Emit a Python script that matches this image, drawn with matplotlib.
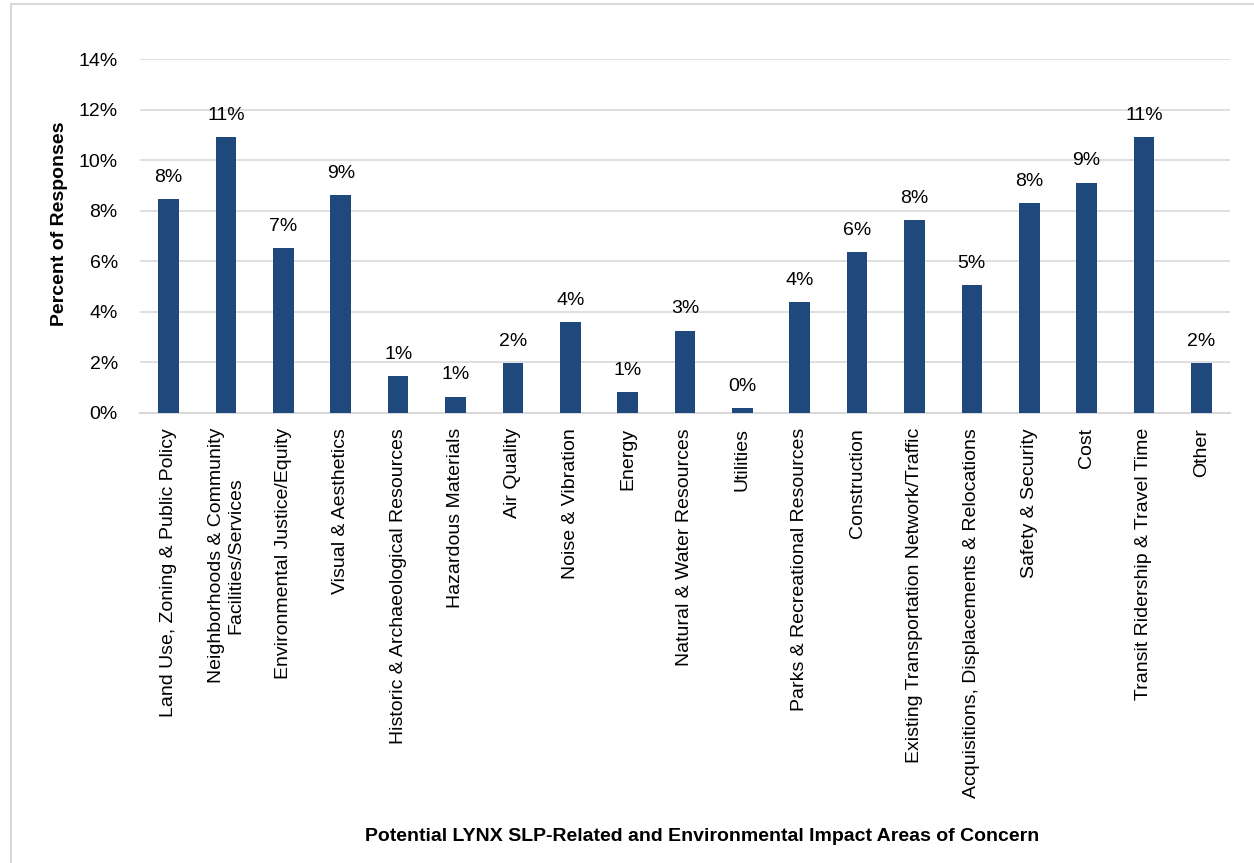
import matplotlib
matplotlib.use("Agg")
import matplotlib.pyplot as plt
from matplotlib.lines import Line2D
from matplotlib.ticker import FuncFormatter
import numpy as np

categories = [
    "Land Use, Zoning & Public Policy",
    "Neighborhoods & Community\nFacilities/Services",
    "Environmental Justice/Equity",
    "Visual & Aesthetics",
    "Historic & Archaeological Resources",
    "Hazardous Materials",
    "Air Quality",
    "Noise & Vibration",
    "Energy",
    "Natural & Water Resources",
    "Utilities",
    "Parks & Recreational Resources",
    "Construction",
    "Existing Transportation Network/Traffic",
    "Acquisitions, Displacements & Relocations",
    "Safety & Security",
    "Cost",
    "Transit Ridership & Travel Time",
    "Other",
]
percent = [8.46, 10.90, 6.51, 8.62, 1.45, 0.63, 1.96, 3.58, 0.81, 3.25,
           0.17, 4.38, 6.35, 7.63, 5.04, 8.30, 9.11, 10.90, 1.96]
yticks = [0, 2, 4, 6, 8, 10, 12, 14]

FONT = ["Liberation Sans", "DejaVu Sans"]
BAR = "#1F497D"
GRID = "#D9D9D9"
W, H = 1254, 863


def main():
    plt.rcParams["font.family"] = FONT
    fig = plt.figure(figsize=(W / 100, H / 100), dpi=100)
    ax = fig.add_axes([140 / W, 1 - 412.7 / H, 1090 / W, 353.7 / H])

    x = np.arange(len(categories))
    ax.bar(x, percent, width=0.36, color=BAR, zorder=3)

    for xi, v in zip(x, percent):
        ax.annotate(f"{v:.0f}%", (xi, v), xytext=(0, 12.5), textcoords="offset points",
                    ha="center", va="baseline", fontsize=14, color="black")

    ax.set_xlim(-0.5, len(categories) - 0.5)
    ax.set_ylim(0, 14)
    ax.set_yticks(yticks)
    ax.yaxis.set_major_formatter(FuncFormatter(lambda v, p: f"{v:.0f}%"))
    ax.set_xticks(x)
    ax.set_xticklabels(categories, rotation=90, multialignment="center", fontsize=14)
    ax.tick_params(axis="y", length=0, pad=16, labelsize=14)
    ax.tick_params(axis="x", length=0, pad=11)
    ax.grid(axis="y", color=GRID, linewidth=1.2, zorder=0)
    ax.set_axisbelow(True)
    for s in ["left", "right", "top"]:
        ax.spines[s].set_visible(False)
    ax.spines["bottom"].set_color(GRID)
    ax.spines["bottom"].set_linewidth(1.5)

    ax.set_ylabel("Percent of Responses", fontsize=14, fontweight="bold")
    ax.yaxis.set_label_coords((68 - 140) / 1090, 0.533)

    fig.text(702 / W, 1 - 836 / H, "Potential LYNX SLP-Related and Environmental Impact Areas of Concern",
             ha="center", va="center", fontsize=14, fontweight="bold")

    # partial frame of the chart area (left and top edges)
    fig.add_artist(Line2D([10.5 / W, 10.5 / W], [0, 1 - 4.5 / H], transform=fig.transFigure,
                          color=GRID, linewidth=1.5))
    fig.add_artist(Line2D([10.5 / W, 1], [1 - 4.5 / H, 1 - 4.5 / H], transform=fig.transFigure,
                          color=GRID, linewidth=1.5))

    fig.savefig("out.png", dpi=100)
    plt.close(fig)


if __name__ == "__main__":
    main()
